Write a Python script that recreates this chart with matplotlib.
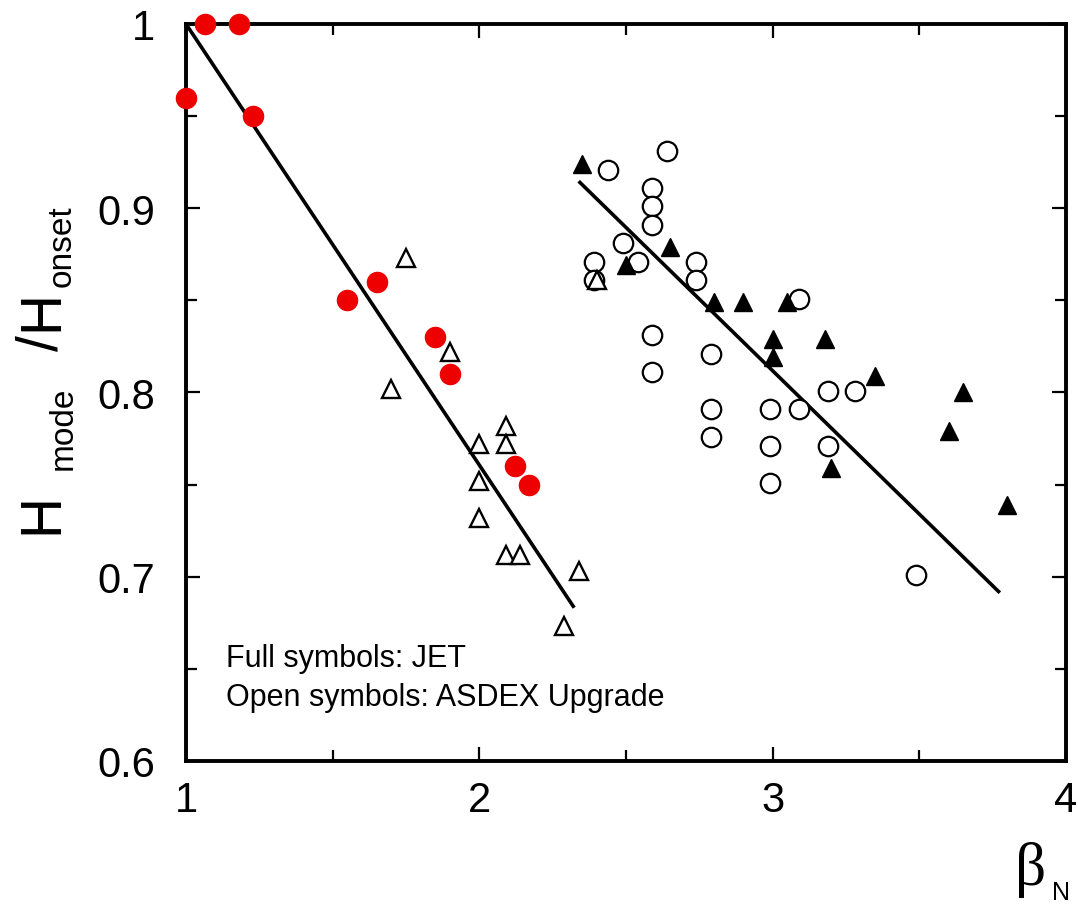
import matplotlib
matplotlib.use("Agg")
import matplotlib.pyplot as plt
from matplotlib.ticker import MultipleLocator

plt.rcParams['font.family'] = ['Liberation Sans', 'DejaVu Sans']

# JET, red full circles
jet_c_x = [1.0, 1.064, 1.18, 1.23, 1.55, 1.65, 1.85, 1.90, 2.12, 2.17]
jet_c_y = [0.96, 1.0, 1.0, 0.95, 0.85, 0.86, 0.83, 0.81, 0.76, 0.75]

# ASDEX Upgrade, open triangles
aug_t_x = [1.75, 1.90, 1.70, 2.09, 2.09, 2.0, 2.0, 2.0, 2.09, 2.14, 2.34, 2.29, 2.40]
aug_t_y = [0.873, 0.822, 0.802, 0.782, 0.772, 0.772, 0.752, 0.732, 0.712, 0.712, 0.703, 0.673, 0.861]

# JET, full black triangles
jet_t_x = [2.35, 2.50, 2.65, 2.80, 2.90, 3.05, 3.0, 3.0, 3.18, 3.35, 3.65, 3.60, 3.20, 3.80]
jet_t_y = [0.924, 0.869, 0.879, 0.849, 0.849, 0.849, 0.829, 0.819, 0.829, 0.809, 0.800, 0.779, 0.759, 0.739]

# ASDEX Upgrade, open circles
aug_c_x = [2.44, 2.64, 2.59, 2.59, 2.59, 2.49, 2.54, 2.39, 2.39, 2.74, 2.74, 3.09,
           2.59, 2.59, 2.79, 2.79, 2.79, 2.99, 3.09, 3.19, 3.28, 2.99, 3.19, 2.99, 3.49]
aug_c_y = [0.921, 0.931, 0.911, 0.901, 0.891, 0.881, 0.871, 0.871, 0.861, 0.871, 0.861, 0.851,
           0.831, 0.811, 0.821, 0.791, 0.776, 0.791, 0.791, 0.801, 0.801, 0.771, 0.771, 0.751, 0.701]

# fit lines
fit1_x = [1.0, 2.32]
fit1_y = [1.0, 0.684]
fit2_x = [2.343, 3.77]
fit2_y = [0.914, 0.692]

W, H = 1078, 912
fig = plt.figure(figsize=(W / 100, H / 100), dpi=100)


def fx(px):
    return px / W


def fy(py):
    return 1 - py / H


left, right, top, bottom = 186, 1066, 25, 762
ax = fig.add_axes([fx(left), fy(bottom), (right - left) / W, (bottom - top) / H])

ax.plot(fit1_x, fit1_y, color='black', lw=2.6, zorder=2)
ax.plot(fit2_x, fit2_y, color='black', lw=2.6, zorder=2)

ax.plot(aug_c_x, aug_c_y, 'o', ms=14, mfc='white', mec='black', mew=1.6, zorder=3)
ax.plot(aug_t_x, aug_t_y, '^', ms=13.5, mfc='white', mec='black', mew=1.7, zorder=3)
ax.plot(jet_t_x, jet_t_y, '^', ms=13, mfc='black', mec='black', mew=1, zorder=4)
ax.plot(jet_c_x, jet_c_y, 'o', ms=14.5, mfc='#ee0000', mec='#ee0000', zorder=4, clip_on=False)

ax.set_xlim(1, 4)
ax.set_ylim(0.6, 1.0)
ax.xaxis.set_major_locator(MultipleLocator(1))
ax.xaxis.set_minor_locator(MultipleLocator(0.5))
ax.yaxis.set_minor_locator(MultipleLocator(0.05))
ax.set_yticks([0.6, 0.7, 0.8, 0.9, 1.0])
ax.set_yticklabels(['0.6', '0.7', '0.8', '0.9', '1'])
ax.tick_params(which='both', direction='in', top=True, right=True, width=1.6,
               labelsize=30)
ax.tick_params(axis='x', which='both', pad=14)
ax.tick_params(axis='y', which='both', pad=22)
ax.tick_params(which='major', length=10)
ax.tick_params(which='minor', length=8)
for s in ax.spines.values():
    s.set_linewidth(2.8)

# annotation
fig.text(fx(226), fy(667), 'Full symbols: JET', fontsize=22, va='baseline', ha='left')
fig.text(fx(226), fy(706), 'Open symbols: ASDEX Upgrade', fontsize=22, va='baseline', ha='left')

# y label pieces (rotated)
ykw = dict(rotation=90, rotation_mode='anchor', ha='center', va='baseline')
fig.text(fx(57), fy(514), 'H', fontsize=41, **ykw)
fig.text(fx(72), fy(428), 'mode', fontsize=24, **ykw)
fig.text(fx(57), fy(343), '/', fontsize=41, **ykw)
fig.text(fx(57), fy(311), 'H', fontsize=41, **ykw)
fig.text(fx(71), fy(246), 'onset', fontsize=24, **ykw)

# x label
fig.text(fx(1031), fy(885), 'β', fontsize=44, family='Liberation Serif',
         ha='center', va='baseline')
fig.text(fx(1061), fy(900), 'N', fontsize=18, ha='center', va='baseline')

fig.savefig('out.png', dpi=100)
